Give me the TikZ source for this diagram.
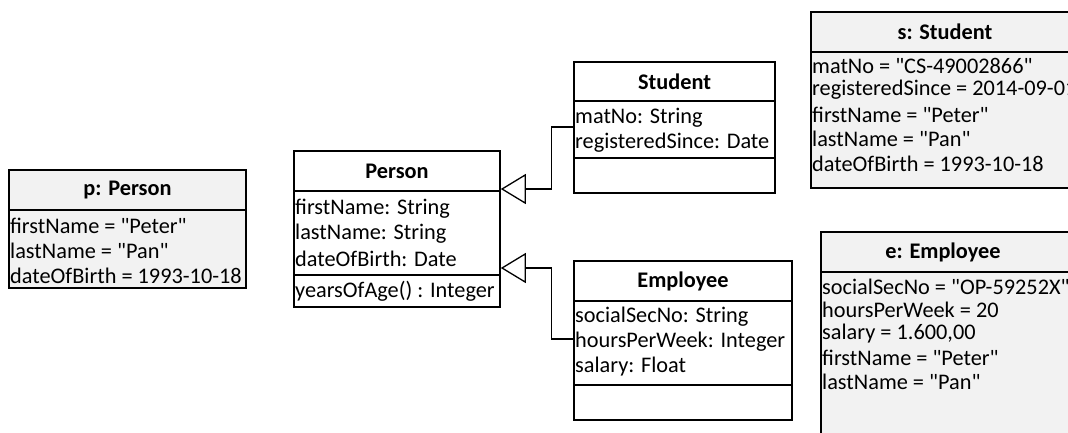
\documentclass[tikz,border=0pt]{standalone}
\usepackage{fontspec}
\setmainfont{Carlito}[Ligatures=TeXOff]
\usetikzlibrary{arrows.meta}
\begin{document}
\begin{tikzpicture}[x=1pt,y=-1pt,
  box/.style={draw, line width=1.6pt, inner sep=0pt, minimum width=#1},
  objbox/.style={box=#1, fill=objgray},
  sep/.style={line width=1.4pt},
  txt/.style={inner sep=0pt, anchor=west, font=\fontsize{22.3}{25}\selectfont},
  hd/.style={inner sep=0pt, font=\fontsize{22.3}{25}\selectfont\bfseries},
  gen/.style={line width=1.1pt, -{Triangle[open, length=25pt, width=30pt, line width=1.3pt, fill=white]}}
]
\definecolor{objgray}{HTML}{F2F2F2}
\useasboundingbox (0,0) rectangle (1068,432);
\clip (0,0) rectangle (1068,432);

% p: Person
\node[objbox=237pt, minimum height=118pt] (pp) at (127.5,229) {};
\draw[sep] (pp.west |- 0,210) -- (pp.east |- 0,210);
\node[hd] (pph) at (127.5,190) {p: Person};
\node[txt] (pp1) at (10,226) {firstName = "Peter"};
\node[txt] (pp2) at (10,251) {lastName = "Pan"};
\node[txt] (pp3) at (10,276) {dateOfBirth = 1993-10-18};

% Person class
\node[box=206pt, minimum height=156pt, fill=white] (person) at (397,229) {};
\draw[sep] (person.west |- 0,191) -- (person.east |- 0,191);
\draw[sep] (person.west |- 0,275) -- (person.east |- 0,275);
\node[hd] (personh) at (397,171) {Person};
\node[txt] (pe1) at (295,209) {firstName: String};
\node[txt] (pe2) at (295,234) {lastName: String};
\node[txt] (pe3) at (295,259) {dateOfBirth: Date};
\node[txt] (pe4) at (295,291) {yearsOfAge() : Integer};

% Student class
\node[box=201pt, minimum height=131pt, fill=white] (student) at (674.5,127.5) {};
\draw[sep] (student.west |- 0,101) -- (student.east |- 0,101);
\draw[sep] (student.west |- 0,158) -- (student.east |- 0,158);
\node[hd] (studenth) at (674.5,82) {Student};
\node[txt] (st1) at (575,118) {matNo: String};
\node[txt] (st2) at (575,143) {registeredSince: Date};

% Employee class
\node[box=218pt, minimum height=159pt, fill=white] (employee) at (683,340.5) {};
\draw[sep] (employee.west |- 0,301) -- (employee.east |- 0,301);
\draw[sep] (employee.west |- 0,385) -- (employee.east |- 0,385);
\node[hd] (employeeh) at (683,281) {Employee};
\node[txt] (em1) at (575,317) {socialSecNo: String};
\node[txt] (em2) at (575,342) {hoursPerWeek: Integer};
\node[txt] (em3) at (575,367) {salary: Float};

% s: Student
\node[objbox=269pt, minimum height=176pt] (ss) at (945.5,100) {};
\draw[sep] (ss.west |- 0,52) -- (ss.east |- 0,52);
\node[hd] (ssh) at (945,32) {s: Student};
\node[txt] (ss1) at (812,66) {matNo = "CS-49002866"};
\node[txt] (ss2) at (812,90) {registeredSince = 2014-09-01};
\node[txt] (ss3) at (812,114.5) {firstName = "Peter"};
\node[txt] (ss4) at (812,139) {lastName = "Pan"};
\node[txt] (ss5) at (812,163.5) {dateOfBirth = 1993-10-18};

% e: Employee
\node[objbox=249pt, minimum height=213pt] (ee) at (945.5,338.5) {};
\draw[sep] (ee.west |- 0,272) -- (ee.east |- 0,272);
\node[hd] (eeh) at (943,252) {e: Employee};
\node[txt] (ee1) at (822,287) {socialSecNo = "OP-59252X"};
\node[txt] (ee2) at (822,310) {hoursPerWeek = 20};
\node[txt] (ee3) at (822,334) {salary = 1.600,00};
\node[txt] (ee4) at (822,358) {firstName = "Peter"};
\node[txt] (ee5) at (822,382) {lastName = "Pan"};

% generalizations
\draw[gen] (student.west |- 0,127) -- ++(-22,0) |- (person.east |- 0,189);
\draw[gen] (employee.west |- 0,339) -- ++(-22,0) |- (person.east |- 0,268);
\end{tikzpicture}
\end{document}
